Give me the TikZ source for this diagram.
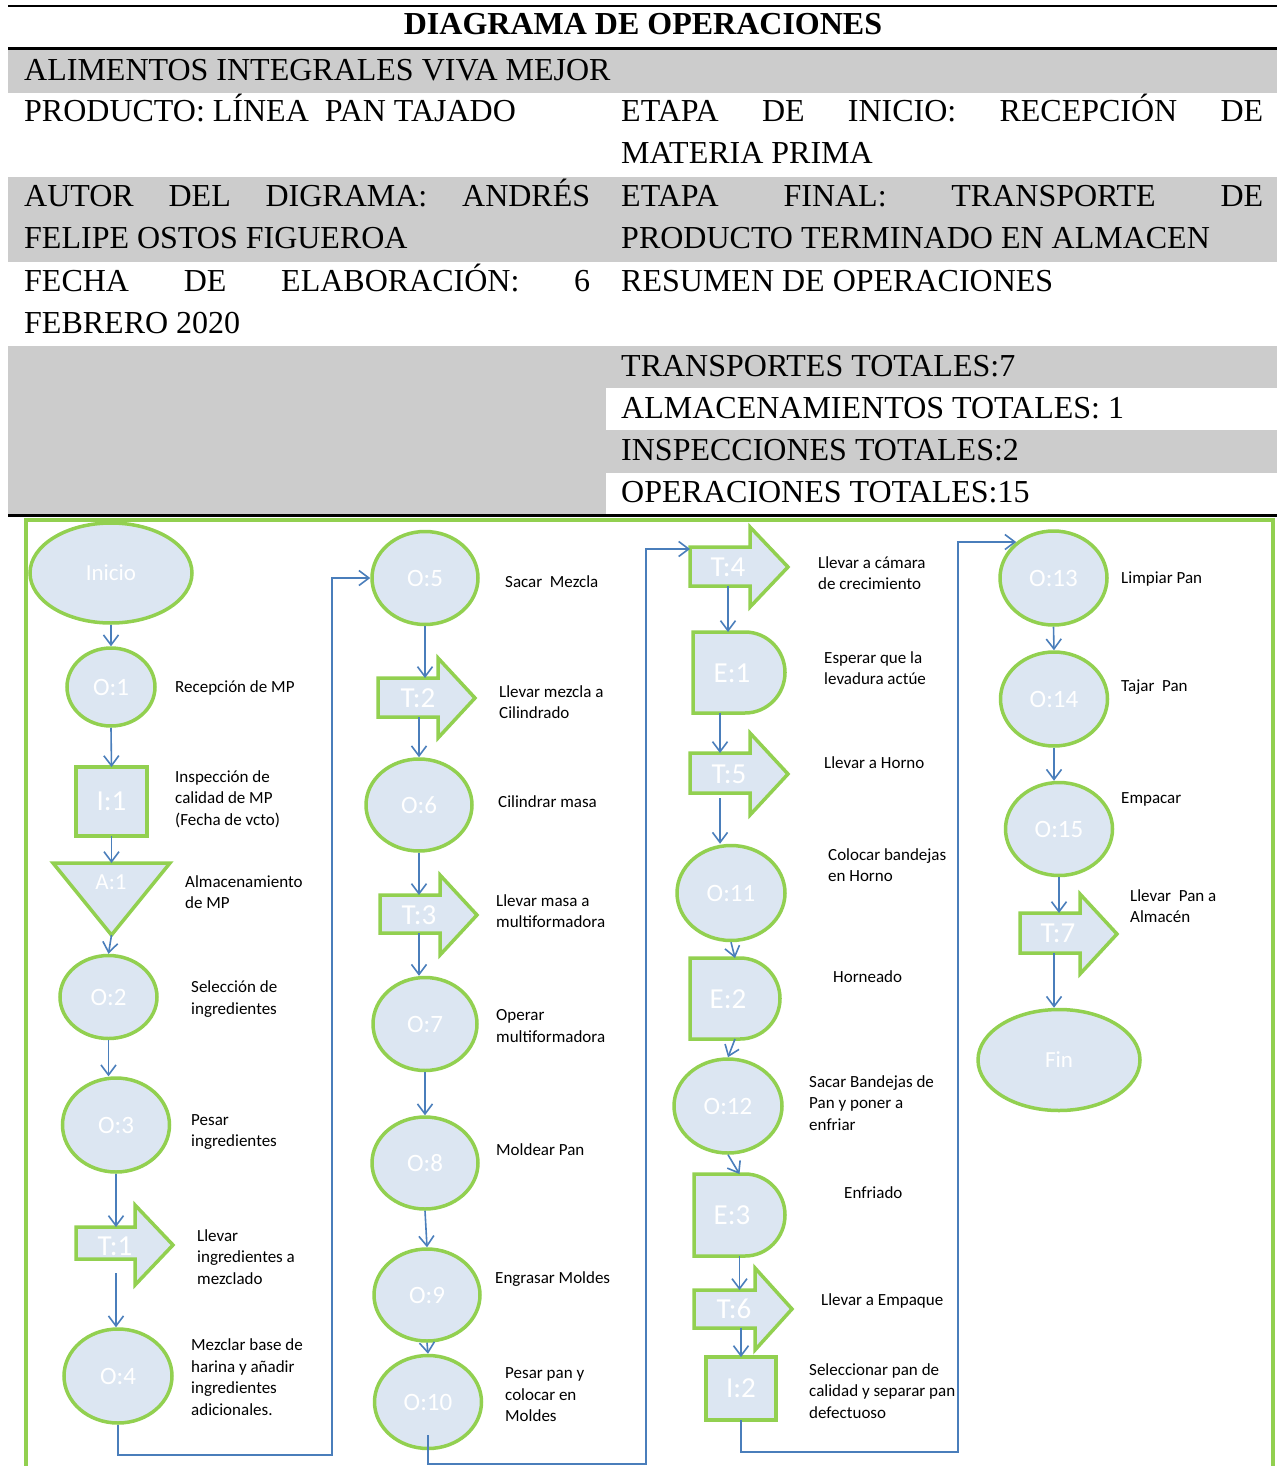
\documentclass[tikz,border=0pt]{standalone}
\usepackage{fontspec}
\setmainfont{Liberation Serif}
\newfontfamily\carl{Carlito}
\usetikzlibrary{shapes.geometric,arrows.meta}
\definecolor{hgray}{RGB}{204,204,204}
\definecolor{gr}{RGB}{146,208,80}
\definecolor{lb}{RGB}{220,230,242}
\definecolor{bl}{RGB}{74,126,187}

% transport arrow: name, left, neck, tip, body top, body bottom, head top, head bottom
\newcommand\moveshape[8]{%
  \draw[shp] (#2,-#5) -- (#3,-#5) -- (#3,-#7) -- (#4,{-(#7+#8)/2}) -- (#3,-#8) -- (#3,-#6) -- (#2,-#6) -- cycle;
  \node[box, minimum width={(#3-#2)*1pt}, minimum height={(#6-#5)*1pt}] (#1) at ({(#2+#3)/2},{-(#5+#6)/2}) {};
}
% delay shape: name, left, right, top, bottom
\newcommand\waitshape[5]{%
  \node[box, minimum width={(#3-#2)*1pt}, minimum height={(#5-#4)*1pt}] (#1) at ({(#2+#3)/2},{-(#4+#5)/2}) {};
  \draw[shp] (#1.north west) -- ([xshift=-40pt]#1.north east)
    arc[start angle=90, end angle=-90, x radius=40pt, y radius={(#5-#4)/2*1pt}] -- (#1.south west) -- cycle;
}

\begin{document}
\begin{tikzpicture}[x=1pt,y=1pt,
  hdr/.style={anchor=base west, inner sep=0, font=\fontsize{32}{42}\selectfont},
  shp/.style={draw=gr, fill=lb, line width=3.5pt},
  ell/.style={shp, ellipse, inner sep=0},
  box/.style={inner sep=0, outer sep=0},
  lab/.style={text=white, font=\carl\fontsize{25}{25}\selectfont},
  blab/.style={text=white, font=\carl\fontsize{29}{29}\selectfont},
  slab/.style={text=white, font=\carl\fontsize{23}{23}\selectfont},
  conn/.style={draw=bl, line width=1.6pt, -{Straight Barb[length=10pt,width=15pt]}},
  desc/.style={anchor=west, align=left, inner sep=0, font=\carl\fontsize{17}{21.5}\selectfont},
  greenframe/.style={draw=gr, line width=4pt}
]
\useasboundingbox (0,0) rectangle (1277,-1466);

% ---------- header table ----------
\fill[hgray] (8,-49) rectangle (1277,-93);
\fill[hgray] (8,-177) rectangle (1277,-262);
\fill[hgray] (8,-346) rectangle (606,-514);
\fill[hgray] (606,-346) rectangle (1277,-388);
\fill[hgray] (606,-430) rectangle (1277,-473);
\draw[line width=2pt] (8,-6) -- (1277,-6);
\draw[line width=3pt] (8,-48.5) -- (1277,-48.5);
\draw[line width=3pt] (8,-515) -- (1277,-515);

\node[anchor=base, inner sep=0, font=\bfseries\fontsize{32}{32}\selectfont] (title) at (643,-35) {DIAGRAMA DE OPERACIONES};
\node[hdr] (empresa) at (24,-81) {ALIMENTOS INTEGRALES VIVA MEJOR};
\node[hdr] (producto) at (24,-122) {PRODUCTO: LÍNEA\ \ PAN TAJADO};
\node[hdr] (inicioa) at (621,-122) {\hbox to 642pt{ETAPA\hfill DE\hfill INICIO:\hfill RECEPCIÓN\hfill DE}};
\node[hdr] (iniciob) at (621,-164) {MATERIA PRIMA};
\node[hdr] (autora) at (24,-206) {\hbox to 566pt{AUTOR\hfill DEL\hfill DIGRAMA:\hfill ANDRÉS}};
\node[hdr] (autorb) at (24,-248) {FELIPE OSTOS FIGUEROA};
\node[hdr] (finala) at (621,-206) {\hbox to 642pt{ETAPA\hfill FINAL:\hfill TRANSPORTE\hfill DE}};
\node[hdr] (finalb) at (621,-248) {PRODUCTO TERMINADO EN ALMACEN};
\node[hdr] (fechaa) at (24,-291) {\hbox to 566pt{FECHA\hfill DE\hfill ELABORACIÓN:\hfill 6}};
\node[hdr] (fechab) at (24,-333) {FEBRERO 2020};
\node[hdr] (resumen) at (621,-291) {RESUMEN DE OPERACIONES};
\node[hdr] (trans) at (621,-376) {TRANSPORTES TOTALES:7};
\node[hdr] (almac) at (621,-418) {ALMACENAMIENTOS TOTALES: 1};
\node[hdr] (insp) at (621,-460) {INSPECCIONES TOTALES:2};
\node[hdr] (oper) at (621,-502) {OPERACIONES TOTALES:15};

% ---------- diagram frame ----------
\draw[greenframe] (26,-1470) -- (26,-519.5) -- (1273,-519.5) -- (1273,-1470);

% ---------- column 1 ----------
\node[ell, slab, minimum width=162pt, minimum height=100pt] (inicio) at (111,-573) {Inicio};
\node[ell, lab, minimum width=88pt, minimum height=78pt] (o1) at (111,-687) {O:1};
\node[shp, blab, box, minimum width=71pt, minimum height=69pt] (i1) at (111.5,-801.5) {I:1};
\node[box, minimum width=117pt, minimum height=72pt] (a1) at (111.5,-899) {};
\draw[shp] (a1.north west) -- (a1.north east) -- (a1.south) -- cycle;
\node[slab] (a1l) at (111,-882) {A:1};
\node[ell, lab, minimum width=97pt, minimum height=83pt] (o2) at (108.5,-997) {O:2};
\node[ell, lab, minimum width=107pt, minimum height=94pt] (o3) at (116,-1125) {O:3};
\moveshape{t1}{76}{135}{173}{1227}{1259}{1205}{1285}
\node[blab] (t1l) at (115,-1246) {T:1};
\node[ell, lab, minimum width=108pt, minimum height=94pt] (o4) at (118,-1376) {O:4};

% ---------- column 2 ----------
\node[ell, lab, minimum width=106pt, minimum height=93pt] (o5) at (425,-578) {O:5};
\moveshape{t2}{378}{438}{475}{678}{717}{658}{738}
\node[blab] (t2l) at (418,-698) {T:2};
\node[ell, lab, minimum width=106pt, minimum height=92pt] (o6) at (419,-805) {O:6};
\moveshape{t3}{380}{440}{477}{895}{933}{875}{955}
\node[blab] (t3l) at (419,-915) {T:3};
\node[ell, lab, minimum width=104pt, minimum height=93pt] (o7) at (425,-1024) {O:7};
\node[ell, lab, minimum width=106pt, minimum height=92pt] (o8) at (425,-1163) {O:8};
\node[ell, lab, minimum width=106pt, minimum height=92pt] (o9) at (427,-1295) {O:9};
\node[ell, lab, minimum width=107pt, minimum height=93pt] (o10) at (428,-1402) {O:10};

% ---------- column 3 ----------
\moveshape{t4}{690}{750}{788}{547}{586}{527}{607}
\node[blab] (t4l) at (728,-567) {T:4};
\waitshape{e1}{693}{785}{632}{713}
\node[blab] (e1l) at (732,-673) {E:1};
\moveshape{t5}{690}{750}{788}{753}{793}{733}{815}
\node[blab] (t5l) at (729,-774) {T:5};
\node[ell, lab, minimum width=108pt, minimum height=95pt] (o11) at (731,-893) {O:11};
\waitshape{e2}{690}{780}{958}{1039}
\node[blab] (e2l) at (728,-999) {E:2};
\node[ell, lab, minimum width=108pt, minimum height=94pt] (o12) at (728,-1106) {O:12};
\waitshape{e3}{694}{785}{1174}{1256}
\node[blab] (e3l) at (732,-1215) {E:3};
\moveshape{t6}{694}{755}{792}{1290}{1328}{1268}{1350}
\node[blab] (t6l) at (734,-1309) {T:6};
\node[shp, blab, box, minimum width=70pt, minimum height=63pt] (i2) at (741,-1388.5) {I:2};

% ---------- column 4 ----------
\node[ell, lab, minimum width=107pt, minimum height=94pt] (o13) at (1053.5,-578) {O:13};
\node[ell, lab, minimum width=107pt, minimum height=94pt] (o14) at (1054,-699) {O:14};
\node[ell, lab, minimum width=107pt, minimum height=93pt] (o15) at (1059,-829) {O:15};
\moveshape{t7}{1020}{1080}{1117}{913}{953}{894}{974}
\node[blab] (t7l) at (1058,-933) {T:7};
\node[ell, slab, minimum width=162pt, minimum height=101pt] (fin) at (1059,-1060) {Fin};

% ---------- connectors ----------
\coordinate (lp1) at (332,-1455);
\coordinate (lp2) at (646,-1464);
\coordinate (lp3) at (958,-1452);
\draw[conn] (inicio.south) -- (o1.north);
\draw[conn] (o1.south) -- (i1.north);
\draw[conn] (i1.south) -- (a1.north);
\draw[conn] (a1.south) -- (o2.north);
\draw[conn] (o2.south) -- (o2.south |- o3.north);
\draw[conn] (o3.south) -- (o3.south |- t1.north);
\draw[conn] ([yshift=-14pt]t1.south -| o3.south) -- (o3.south |- o4.north);
\draw[conn] (o4.south) |- (lp1) |- (o5.west);
\draw[conn] (o5.south) -- (o5.south |- t2.north);
\draw[conn] (t2.south -| o6.north) -- (o6.north);
\draw[conn] (o6.south) -- (o6.south |- t3.north);
\draw[conn] (t3.south -| o6.south) -- (o6.south |- o7.north);
\draw[conn] (o7.south) -- (o8.north);
\draw[conn] (o8.south) -- (o9.north);
\draw[conn] (o9.south) -- (o10.north);
\draw[conn] ([yshift=15pt]o10.south) |- (lp2) |- ([yshift=-2pt]t4.north west);
\draw[conn] (t4.south -| t4l) -- (t4l |- e1.north);
\draw[conn] (e1.south -| t5.north) -- (t5.north);
\draw[conn] ([yshift=-5pt]t5.south) -- (t5.south |- o11.north);
\draw[conn] (o11.south) -- (e2.north);
\draw[conn] (e2.south) -- (o12.north);
\draw[conn] (o12.south) -- (e3.north);
\draw[conn] (e3.south) -- (e3.south |- t6.north);
\draw[conn] (t6.south -| i2.north) -- (i2.north);
\draw[conn] (i2.south) |- (lp3) |- (o13.136);
\draw[conn] (o13.south) -- (o14.north);
\draw[conn] (o14.south) -- (o14.south |- o15.north);
\draw[conn] (o15.south) -- (o15.south |- t7.north);
\draw[conn] (t7.south -| o14.south) -- (o14.south |- fin.north);

% ---------- step descriptions ----------
\node[desc] (d1) at (175,-688) {Recepción de MP};
\node[desc] (d2) at (175,-799) {Inspección de\\calidad de MP\\(Fecha de vcto)};
\node[desc] (d3) at (185,-892) {Almacenamiento\\de MP};
\node[desc] (d4) at (191,-999) {Selección de\\ingredientes};
\node[desc] (d5) at (191,-1132) {Pesar\\ingredientes};
\node[desc] (d6) at (197,-1257) {Llevar\\ingredientes a\\mezclado};
\node[desc] (d7) at (191,-1377) {Mezclar base de\\harina y añadir\\ingredientes\\adicionales.};
\node[desc] (d8) at (505,-582) {Sacar\ \ Mezcla};
\node[desc] (d9) at (499,-702) {Llevar mezcla a\\Cilindrado};
\node[desc] (d10) at (498,-802) {Cilindrar masa};
\node[desc] (d11) at (496,-911) {Llevar masa a\\multiformadora};
\node[desc] (d12) at (496,-1026) {Operar\\multiformadora};
\node[desc] (d13) at (496,-1150) {Moldear Pan};
\node[desc] (d14) at (495,-1279) {Engrasar Moldes};
\node[desc] (d15) at (505,-1395) {Pesar pan y\\colocar en\\Moldes};
\node[desc] (d16) at (818,-573) {Llevar a cámara\\de crecimiento};
\node[desc] (d17) at (824,-668) {Esperar que la\\levadura actúe};
\node[desc] (d18) at (824,-763) {Llevar a Horno};
\node[desc] (d19) at (828,-865) {Colocar bandejas\\en Horno};
\node[desc] (d20) at (833,-977) {Horneado};
\node[desc] (d21) at (809,-1103) {Sacar Bandejas de\\Pan y poner a\\enfriar};
\node[desc] (d22) at (844,-1193) {Enfriado};
\node[desc] (d23) at (821,-1301) {Llevar a Empaque};
\node[desc] (d24) at (809,-1391) {Seleccionar pan de\\calidad y separar pan\\defectuoso};
\node[desc] (d25) at (1121,-579) {Limpiar Pan};
\node[desc] (d26) at (1121,-687) {Tajar\ \ Pan};
\node[desc] (d27) at (1121,-799) {Empacar};
\node[desc] (d28) at (1130,-906) {Llevar\ \ Pan a\\Almacén};
\end{tikzpicture}
\end{document}
